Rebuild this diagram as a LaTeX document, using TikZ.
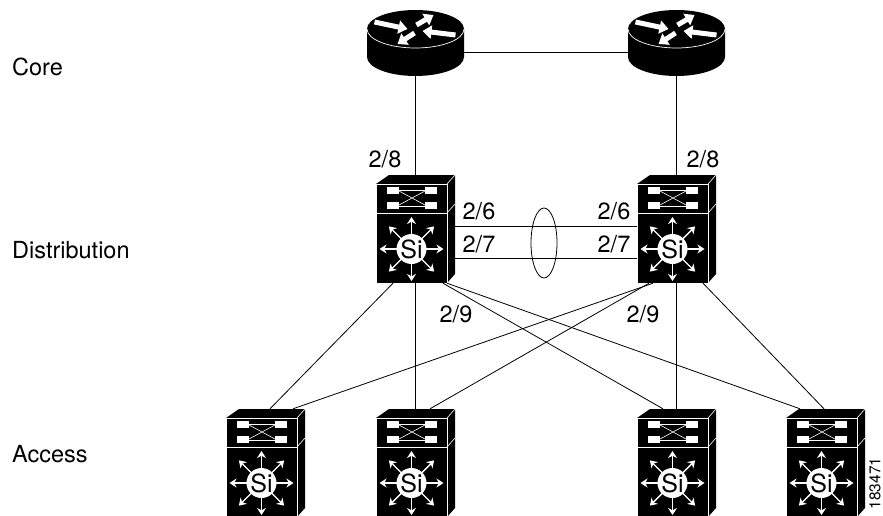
\documentclass[tikz,border=0pt]{standalone}
\usepackage{fontspec}
\setmainfont{TeX Gyre Heros}
\usetikzlibrary{arrows.meta, shapes.geometric}

\tikzset{
  link/.style={black, line width=0.8pt},
  tag/.style={inner sep=0pt, font=\fontsize{23.5}{24}\selectfont},
  tier/.style={inner sep=0pt, anchor=west, font=\fontsize{23.5}{24}\selectfont},
  boxnode/.style={minimum width=79pt, minimum height=108pt, inner sep=0pt},
  disknode/.style={minimum width=97pt, minimum height=66pt, inner sep=0pt},
  wire/.style={white, line width=0.6pt},
  spoke/.style={white, line width=1.4pt, -{Stealth[length=7pt, width=9pt]}},
  flow/.style={white, line width=5pt, -{Triangle[length=9pt, width=13pt]}}
}

% #1 name, (#2,#3) top left corner of the front face
\newcommand{\switchbox}[3]{
  \begin{scope}[shift={(#2,#3)}]
    \fill[black] (0,0) -- (13,-9) -- (79,-9) -- (79,90) -- (71,99) -- (0,99) -- cycle;
    \draw[wire] (0,0) rectangle (71,99);
    \draw[wire] (0,29) -- (71,29);
    \draw[wire] (71,0) -- (79,-9);
    \draw[wire] (71,29) -- (79,20);
    \fill[white] (11,3) rectangle (23,10);
    \fill[white] (49,3) rectangle (61,10);
    \fill[white] (11,18) rectangle (23,25);
    \fill[white] (49,18) rectangle (61,25);
    \draw[wire] (23,6) -- (49,6);
    \draw[wire] (23,22) -- (49,22);
    \draw[wire] (23,7) -- (49,21);
    \draw[wire] (23,21) -- (49,7);
    \foreach \a in {0,45,...,315}
      \draw[spoke] (35.5,65) -- ++(\a:32);
    \node (#1si) at (35.5,65) [circle, fill=white, minimum size=30pt, inner sep=0pt, font=\fontsize{25}{25}\selectfont] {Si};
    \node (#1) at (39.5,45) [boxnode] {};
  \end{scope}
}

% #1 name, (#2,#3) centre of the top face
\newcommand{\routerdisk}[3]{
  \begin{scope}[shift={(#2,#3)}]
    \fill[black] (-48.5,0) -- (-48.5,28) arc[start angle=180, end angle=360, x radius=48.5, y radius=-19] -- (48.5,0) -- cycle;
    \fill[black] (0,0) ellipse[x radius=48.5, y radius=19];
    \draw[white, line width=0.7pt] (-48.5,0) arc[start angle=180, end angle=360, x radius=48.5, y radius=-19];
    \draw[flow] (-41,-7) -- (-8,0);
    \draw[flow] (1,-4) -- (18,-14);
    \draw[flow] (40,6) -- (7,2);
    \draw[flow] (-1,4) -- (-18,15);
    \node (#1) at (0,14) [disknode] {};
  \end{scope}
}

\begin{document}
\begin{tikzpicture}[x=1pt, y=-1pt]

\useasboundingbox (0,0) rectangle (883,516);

\routerdisk{coreL}{415.5}{29}
\routerdisk{coreR}{676.5}{29}

\switchbox{distL}{376}{184}
\switchbox{distR}{637}{184}

\switchbox{accA}{226}{418}
\switchbox{accB}{376}{418}
\switchbox{accC}{637}{418}
\switchbox{accD}{786}{418}

\draw[link] ([yshift=-9pt]coreL.east) -- ([yshift=-9pt]coreR.west);
\draw[link] (coreL.south) -- (distL.north);
\draw[link] (coreR.south) -- (distR.north);

\draw[link] ([yshift=3pt]distL.east) -- ([yshift=3pt]distR.west);
\draw[link] ([yshift=-29pt]distL.east) -- ([yshift=-29pt]distR.west);

\draw[link] ([xshift=-22.5pt]distL.south) -- ([xshift=4.5pt]accA.north);
\draw[link] (distL.south) -- (accB.north);
\draw[link] ([xshift=27.5pt]distL.south) -- ([xshift=-13.5pt]accC.north);
\draw[link] ([xshift=31.5pt]distL.south) -- ([xshift=-25.5pt]accD.north);
\draw[link] ([xshift=-23.5pt]distR.south) -- ([xshift=27.5pt]accA.north);
\draw[link] ([xshift=-27.5pt]distR.south) -- ([xshift=14.5pt]accB.north);
\draw[link] (distR.south) -- (accC.north);
\draw[link] ([xshift=26.5pt]distR.south) -- ([xshift=-1.5pt]accD.north);

\node (ring) at (544,243) [link, draw, ellipse, minimum width=26pt, minimum height=70pt, inner sep=0pt] {};

\node (tag28L) at (385,159) [tag] {2/8};
\node (tag28R) at (703,159) [tag] {2/8};
\node (tag26L) at (479,211) [tag] {2/6};
\node (tag27L) at (479,244) [tag] {2/7};
\node (tag26R) at (614,211) [tag] {2/6};
\node (tag27R) at (614,244) [tag] {2/7};
\node (tag29L) at (456,314) [tag] {2/9};
\node (tag29R) at (643,314) [tag] {2/9};

\node (core) at (12,67) [tier] {Core};
\node (distribution) at (12,250) [tier] {Distribution};
\node (access) at (12,454) [tier] {Access};

\node (figno) at (875,483.5) [inner sep=0pt, rotate=90, font=\fontsize{15.5}{16}\selectfont] {183471};

\end{tikzpicture}
\end{document}
